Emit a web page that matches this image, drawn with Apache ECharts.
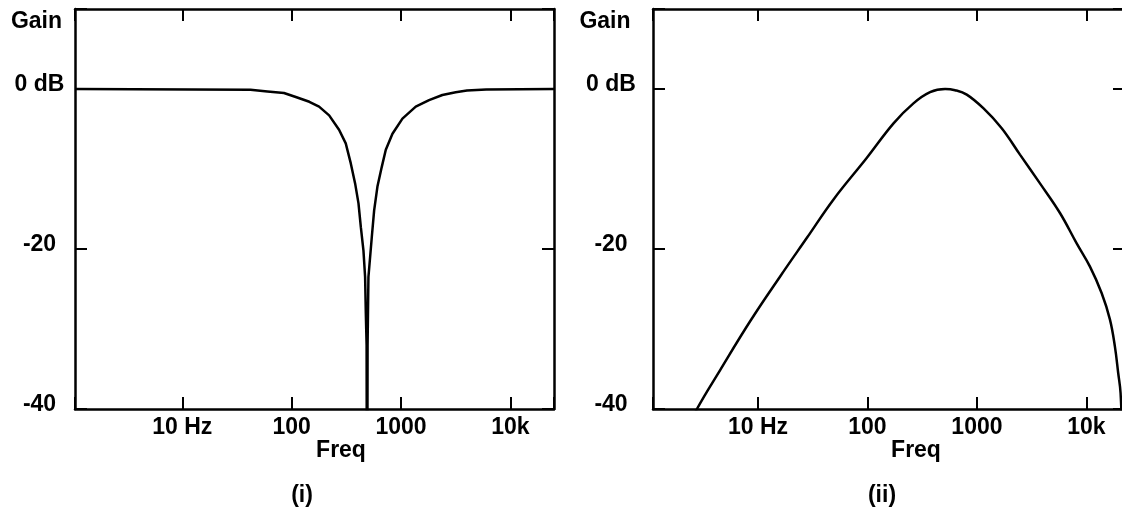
<!DOCTYPE html>
<html>
<head>
<meta charset="utf-8">
<script src="https://cdn.jsdelivr.net/npm/echarts@6/dist/echarts.min.js"></script>
<style>
html,body{margin:0;padding:0;background:#fff;}
#c{width:1122px;height:510px;}
</style>
</head>
<body>
<div id="c"></div>
<script>
// ---- data ----
// (i) notch filter: [frequency Hz, gain dB]
const notchData = [
  [1.045, 0], [42, -0.1], [60, -0.3], [85, -0.5], [109, -1.0], [145, -1.6], [178, -2.2],
  [220, -3.3], [271, -5.1], [312, -6.8], [347, -9.3], [380, -11.8], [408, -14.3],
  [429, -17.3], [453, -20.2], [469, -23.5], [476, -28], [484, -32], [489, -70],
  [494, -32], [503, -23.5], [540, -18.5], [567, -15.2], [608, -12.2], [667, -9.7],
  [725, -7.6], [834, -5.6], [1029, -3.7], [1362, -2.2], [1802, -1.4], [2385, -0.75],
  [3160, -0.4], [4000, -0.2], [6000, -0.05], [25000, 0]
];
// (ii) band-pass filter: [frequency Hz, gain dB]
const bandData = [
  [2.4, -42], [2.77, -40], [4.53, -35.1], [8.51, -29], [16, -23.4], [28, -18.6],
  [49, -13.8], [98.8, -8.6], [173, -4.3], [263, -1.8], [373, -0.4], [512, 0],
  [631, -0.15], [807, -0.7], [1143, -2.4], [1683, -4.9], [2472, -8.2], [3764, -11.8],
  [5731, -15.5], [8143, -19.3], [10770, -22.2], [13760, -25.5], [16380, -28.8],
  [18200, -32.2], [19500, -35.5], [20500, -38], [21500, -46]
];
const xTickValues = [10, 100, 1000, 10000];
const xTickLabels = ['10 Hz', '100', '1000', '10k'];
const yTickValues = [0, -20, -40];
const yTickLabels = ['0 dB', '-20', '-40'];
const panelLabels = ['(i)', '(ii)'];

// ---- chart ----
const FONT = '"Liberation Sans", Arial, Helvetica, sans-serif';
const txt = {color: '#000', fontFamily: FONT, fontWeight: 'bold', fontSize: 23};

function xFmt(v) {
  for (let i = 0; i < xTickValues.length; i++) {
    if (Math.abs(v - xTickValues[i]) < 1e-6 * xTickValues[i]) return xTickLabels[i];
  }
  return '';
}
function yFmt(v) {
  for (let i = 0; i < yTickValues.length; i++) {
    if (Math.abs(v - yTickValues[i]) < 1e-6) return yTickLabels[i];
  }
  return '';
}
const lineW = 2.5;
const axLine = {show: true, onZero: false, lineStyle: {color: '#000', width: lineW}};
const axTick = {show: true, inside: true, length: 12, lineStyle: {color: '#000', width: 2}};

const panels = [
  {left: 75, width: 479, xmin: 1.045, xmax: 25000, ymargin: 35.5},
  {left: 653, width: 472, xmin: 1.10, xmax: 22500, ymargin: 42}
];

const grid = [], xAxis = [], yAxis = [];
panels.forEach((p, i) => {
  grid.push({left: p.left, top: 9, width: p.width, height: 400, containLabel: false, outerBoundsMode: 'none'});
  const xbase = {type: 'log', logBase: 10, min: p.xmin, max: p.xmax, gridIndex: i,
    splitLine: {show: false}, minorTick: {show: false}, axisLine: axLine, axisTick: axTick};
  xAxis.push(Object.assign({}, xbase, {position: 'bottom',
    axisLabel: Object.assign({}, txt, {margin: 7, formatter: xFmt, showMinLabel: true, showMaxLabel: true, hideOverlap: false})}));
  xAxis.push(Object.assign({}, xbase, {position: 'top', axisLabel: {show: false}}));
  const ybase = {type: 'value', min: -40, max: 10, interval: 20, gridIndex: i,
    splitLine: {show: false}, axisLine: axLine, axisTick: axTick};
  yAxis.push(Object.assign({}, ybase, {position: 'left',
    axisLabel: Object.assign({}, txt, {margin: p.ymargin, align: 'center', verticalAlign: 'bottom',
      lineHeight: 8, formatter: yFmt})}));
  yAxis.push(Object.assign({}, ybase, {position: 'right', axisLabel: {show: false}}));
});

function gText(x, y, s) {
  return {type: 'text', x: x, y: y, silent: true,
    style: {text: s, fill: '#000', font: 'bold 23px ' + FONT, textAlign: 'center', textVerticalAlign: 'middle'}};
}

const option = {
  backgroundColor: '#fff',
  animation: false,
  grid: grid,
  xAxis: xAxis,
  yAxis: yAxis,
  series: [
    {type: 'line', data: notchData, xAxisIndex: 0, yAxisIndex: 0, showSymbol: false, symbol: 'none',
      clip: true, lineStyle: {color: '#000', width: lineW}},
    {type: 'line', data: bandData, xAxisIndex: 2, yAxisIndex: 2, showSymbol: false, symbol: 'none',
      clip: true, smooth: 0.4, lineStyle: {color: '#000', width: lineW}}
  ],
  graphic: [
    gText(36.5, 22, 'Gain'), gText(605, 22, 'Gain'),
    gText(341, 450.5, 'Freq'), gText(916, 450.5, 'Freq'),
    gText(302, 496, panelLabels[0]), gText(882, 496, panelLabels[1])
  ]
};
const chart = echarts.init(document.getElementById('c'), null, {renderer: 'canvas'});
chart.setOption(option);
</script>
</body>
</html>
